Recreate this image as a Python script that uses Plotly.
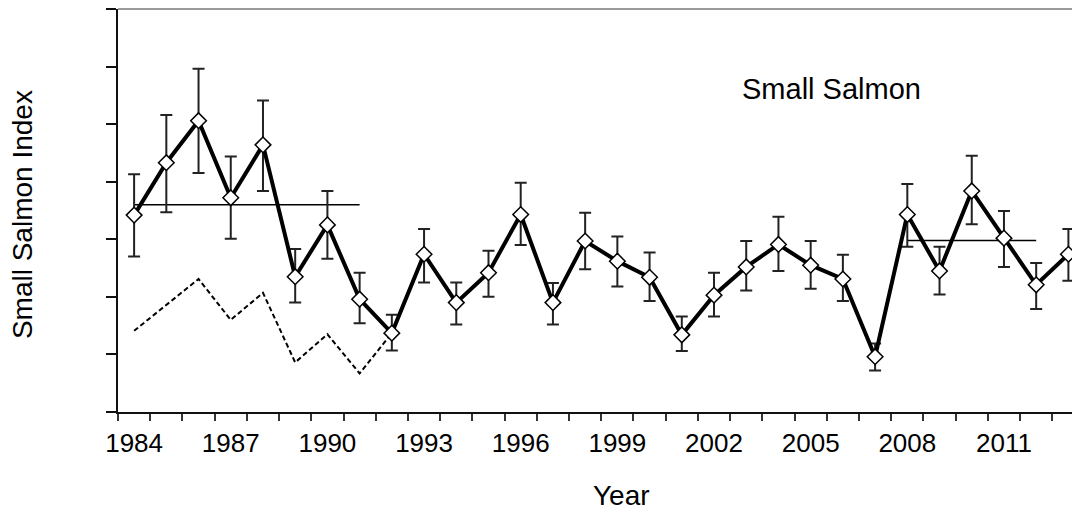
import plotly.graph_objects as go

years = list(range(1984, 2014))
index = [3.42, 4.33, 5.06, 3.72, 4.64, 2.35, 3.25, 1.96, 1.37, 2.74,
         1.90, 2.42, 3.43, 1.90, 2.97, 2.62, 2.34, 1.34, 2.03, 2.52,
         2.91, 2.55, 2.31, 0.96, 3.43, 2.45, 3.84, 3.02, 2.21, 2.74]
upper = [4.13, 5.16, 5.96, 4.44, 5.41, 2.83, 3.84, 2.42, 1.69, 3.18,
         2.25, 2.80, 3.98, 2.24, 3.46, 3.05, 2.77, 1.66, 2.42, 2.97,
         3.39, 2.97, 2.73, 1.19, 3.96, 2.87, 4.45, 3.49, 2.59, 3.18]
lower = [2.70, 3.47, 4.15, 3.01, 3.84, 1.90, 2.66, 1.54, 1.07, 2.25,
         1.52, 2.00, 2.90, 1.52, 2.48, 2.18, 1.93, 1.06, 1.66, 2.11,
         2.45, 2.14, 1.93, 0.72, 2.87, 2.04, 3.26, 2.52, 1.79, 2.28]

# dashed series (1984-1992)
dash_years = list(range(1984, 1993))
dash_values = [1.41, 1.86, 2.31, 1.60, 2.07, 0.86, 1.35, 0.67, 1.37]

# period means
mean1_years = [1984, 1991]
mean1_value = 3.60
mean2_years = [2008, 2012]
mean2_value = 2.98

tick_years = [1984, 1987, 1990, 1993, 1996, 1999, 2002, 2005, 2008, 2011]

plus = [u - v for u, v in zip(upper, index)]
minus = [v - l for v, l in zip(index, lower)]

FONT = "Liberation Sans, Arial, sans-serif"

fig = go.Figure()

fig.add_trace(go.Scatter(x=dash_years, y=dash_values, mode="lines",
                         line=dict(color="black", width=2, dash="5px,3px"),
                         hoverinfo="skip", showlegend=False))
fig.add_trace(go.Scatter(x=mean1_years, y=[mean1_value] * 2, mode="lines",
                         line=dict(color="black", width=1.6),
                         showlegend=False))
fig.add_trace(go.Scatter(x=mean2_years, y=[mean2_value] * 2, mode="lines",
                         line=dict(color="black", width=1.6),
                         showlegend=False))
fig.add_trace(go.Scatter(
    x=years, y=index, mode="lines+markers",
    line=dict(color="black", width=4),
    marker=dict(symbol="diamond", size=12, color="white",
                line=dict(color="black", width=1.5)),
    error_y=dict(type="data", symmetric=False, array=plus, arrayminus=minus,
                 color="#222222", thickness=2, width=6),
    showlegend=False))

minor_vals = [y - 0.5 for y in years] + [years[-1] + 0.5]

fig.update_layout(
    width=1072, height=504,
    margin=dict(l=110, r=0, t=1, b=100),
    paper_bgcolor="white", plot_bgcolor="white",
    font=dict(family=FONT, color="black"),
    xaxis=dict(range=[1983.5, 2013.36], tickmode="array", tickvals=tick_years,
               ticktext=[str(t) for t in tick_years], ticks="",
               tickfont=dict(size=26, family=FONT, color="black"),
               ticklabelstandoff=7,
               minor=dict(tickmode="array", tickvals=minor_vals, ticks="outside",
                          ticklen=7, tickwidth=1.5, tickcolor="#333"),
               showline=True, linecolor="#111", linewidth=2,
               showgrid=False, zeroline=False, automargin=False),
    yaxis=dict(range=[0, 7], tickmode="array", tickvals=list(range(8)),
               ticks="outside", ticklen=10, tickwidth=2, tickcolor="#111",
               showticklabels=False, showline=True, linecolor="#111",
               linewidth=2, showgrid=False, zeroline=False, automargin=False),
    shapes=[dict(type="line", xref="paper", yref="paper", x0=0, x1=1, y0=1, y1=1,
                 line=dict(color="#9a9a9a", width=2))],
    annotations=[
        dict(text="Small Salmon", xref="paper", yref="paper", x=0.742, y=0.8015,
             showarrow=False, font=dict(size=29, family=FONT, color="black"),
             xanchor="center", yanchor="middle"),
        dict(text="Small Salmon Index", xref="paper", yref="paper", x=-0.0998,
             y=0.491, textangle=-90, showarrow=False,
             font=dict(size=28, family=FONT, color="black"),
             xanchor="center", yanchor="middle"),
        dict(text="Year", xref="paper", yref="paper", x=0.523, y=-0.206,
             showarrow=False, font=dict(size=28, family=FONT, color="black"),
             xanchor="center", yanchor="middle"),
    ],
)

fig.write_html("out.html")
